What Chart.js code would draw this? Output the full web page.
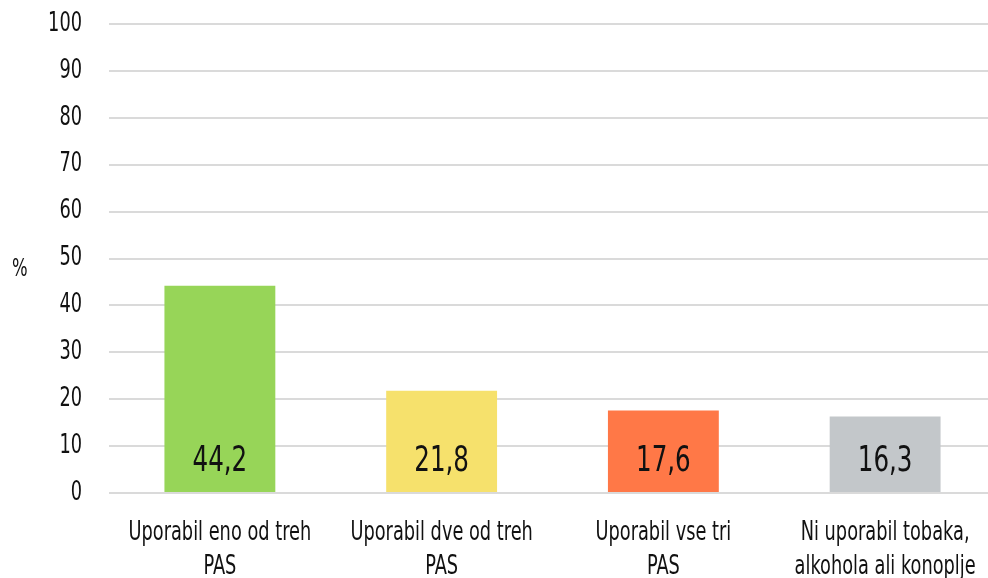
<!DOCTYPE html>
<html>
<head>
<meta charset="utf-8">
<script src="https://cdn.jsdelivr.net/npm/chart.js@4"></script>
<style>
  html, body { margin: 0; padding: 0; background: #fff; overflow: hidden; }
  #wrap { width: 996px; height: 578px; }
</style>
</head>
<body>
<div id="wrap"><canvas id="c" width="996" height="578"></canvas></div>
<script>
'use strict';

const categories = [
  ['Uporabil eno od treh', 'PAS'],
  ['Uporabil dve od treh', 'PAS'],
  ['Uporabil vse tri', 'PAS'],
  ['Ni uporabil tobaka,', 'alkohola ali konoplje'],
];
const values = [44.2, 21.8, 17.6, 16.3];
const valueLabels = ['44,2', '21,8', '17,6', '16,3'];
const barColors = ['#97d558', '#f6e16c', '#ff7847', '#c3c7ca'];

const FONT = '"DejaVu Sans Condensed", "Liberation Sans Narrow", sans-serif';
const SQUEEZE = 0.76;

// draw text narrower than the font, the original uses a condensed face
function squeezed(ctx, text, x, y, size, align) {
  ctx.save();
  ctx.font = size + 'px ' + FONT;
  ctx.textAlign = align;
  ctx.textBaseline = 'middle';
  ctx.translate(x, y);
  ctx.scale(SQUEEZE, 1);
  ctx.fillText(text, 0, 0);
  ctx.restore();
}

const labelPlugin = {
  id: 'labels',
  afterDatasetsDraw(chart) {
    const ctx = chart.ctx;
    const x = chart.scales.x;
    const y = chart.scales.y;
    const meta = chart.getDatasetMeta(0);
    ctx.save();
    ctx.fillStyle = '#111';

    y.ticks.forEach(t => {
      squeezed(ctx, String(t.value), x.left - 27, y.getPixelForValue(t.value), 26, 'right');
    });

    categories.forEach((lines, i) => {
      const cx = x.getPixelForTick(i);
      lines.forEach((line, j) => {
        squeezed(ctx, line, cx, y.bottom + 40 + j * 34, 26, 'center');
      });
    });

    meta.data.forEach((bar, i) => {
      squeezed(ctx, valueLabels[i], bar.x, y.getPixelForValue(6.6), 36, 'center');
    });

    squeezed(ctx, '%', 12, y.getPixelForValue(47.6), 24, 'left');
    ctx.restore();
  },
};

new Chart(document.getElementById('c'), {
  type: 'bar',
  data: {
    labels: categories,
    datasets: [{ data: values, backgroundColor: barColors, barPercentage: 0.5, categoryPercentage: 1 }],
  },
  options: {
    responsive: false,
    animation: false,
    layout: { padding: { top: 24, right: 0, left: 0, bottom: 0 } },
    plugins: { legend: { display: false }, tooltip: { enabled: false } },
    scales: {
      x: {
        grid: { display: false },
        border: { display: false },
        ticks: { display: false },
        afterFit(s) { s.height = 85; },
      },
      y: {
        min: 0,
        max: 100,
        ticks: { stepSize: 10, display: false },
        grid: { color: '#dadada', lineWidth: 2, drawTicks: false },
        border: { display: false },
        afterFit(s) { s.width = 109; s.paddingTop = 0; s.paddingBottom = 0; },
      },
    },
  },
  plugins: [labelPlugin],
});
</script>
</body>
</html>
